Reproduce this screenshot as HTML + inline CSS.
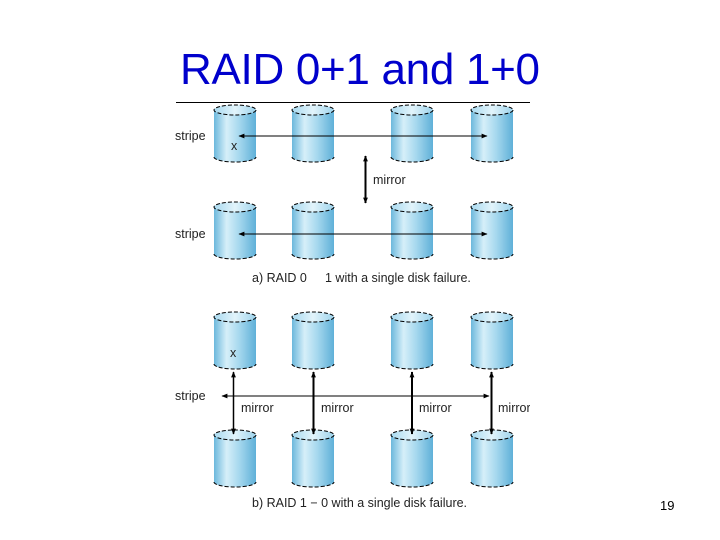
<!DOCTYPE html>
<html><head><meta charset="utf-8"><style>
html,body{margin:0;padding:0;background:#fff}
svg{display:block}
text{font-family:"Liberation Sans",sans-serif}
</style></head><body>
<svg width="720" height="540" viewBox="0 0 720 540" xmlns="http://www.w3.org/2000/svg">
<defs>
<linearGradient id="g" x1="0" x2="1" y1="0" y2="0">
<stop offset="0" stop-color="#6cb8dc"/>
<stop offset="0.3" stop-color="#d6eff9"/>
<stop offset="0.6" stop-color="#a6d8ee"/>
<stop offset="1" stop-color="#5fb0d8"/>
</linearGradient>
<linearGradient id="gt" x1="0" x2="1" y1="0" y2="0">
<stop offset="0" stop-color="#a9daf0"/>
<stop offset="0.5" stop-color="#e2f4fb"/>
<stop offset="1" stop-color="#9dd3ec"/>
</linearGradient>
<marker id="a" viewBox="0 0 10 10" refX="9" refY="5" markerWidth="7" markerHeight="6" markerUnits="userSpaceOnUse" orient="auto-start-reverse">
<path d="M0,1 L10,5 L0,9 z" fill="#000"/></marker>
<clipPath id="c"><rect x="0" y="0" width="530" height="540"/></clipPath>
<g id="cyl">
<path d="M0,5 L0,52 A21,5 0 0 0 42,52 L42,5 Z" fill="url(#g)"/>
<ellipse cx="21" cy="5" rx="21" ry="5" fill="url(#gt)"/>
<ellipse cx="21" cy="5" rx="21" ry="5" fill="none" stroke="#000" stroke-width="1" stroke-dasharray="4,2"/>
<path d="M0,52 A21,5 0 0 0 42,52" fill="none" stroke="#000" stroke-width="1" stroke-dasharray="4,2"/>
</g>
</defs>
<text x="180" y="84" font-size="44" fill="#0000cc" textLength="360">RAID 0+1 and 1+0</text>
<line x1="176" y1="102.5" x2="530" y2="102.5" stroke="#000" stroke-width="1"/>

<use href="#cyl" x="214" y="105"/><use href="#cyl" x="292" y="105"/><use href="#cyl" x="391" y="105"/><use href="#cyl" x="471" y="105"/>
<use href="#cyl" x="214" y="202"/><use href="#cyl" x="292" y="202"/><use href="#cyl" x="391" y="202"/><use href="#cyl" x="471" y="202"/>
<use href="#cyl" x="214" y="312"/><use href="#cyl" x="292" y="312"/><use href="#cyl" x="391" y="312"/><use href="#cyl" x="471" y="312"/>
<use href="#cyl" x="214" y="430"/><use href="#cyl" x="292" y="430"/><use href="#cyl" x="391" y="430"/><use href="#cyl" x="471" y="430"/>

<g font-size="12.5" fill="#222">
<text x="175" y="140">stripe</text>
<text x="231" y="150">x</text>
<text x="373" y="184">mirror</text>
<text x="175" y="238">stripe</text>
<text x="252" y="282">a) RAID 0</text>
<text x="325" y="282">1 with a single disk failure.</text>
<text x="230" y="357">x</text>
<text x="175" y="400">stripe</text>
<text x="241" y="412">mirror</text>
<text x="321" y="412">mirror</text>
<text x="419" y="412">mirror</text>
<text x="498" y="412" clip-path="url(#c)">mirror</text>
<text x="252" y="507">b) RAID 1 − 0 with a single disk failure.</text>
</g>
<text x="660" y="510" font-size="13" fill="#000">19</text>

<g stroke="#000" stroke-width="1" fill="none">
<line x1="239" y1="136" x2="487" y2="136" marker-start="url(#a)" marker-end="url(#a)"/>
<line x1="239" y1="234" x2="487" y2="234" marker-start="url(#a)" marker-end="url(#a)"/>
<line x1="365.5" y1="156" x2="365.5" y2="203" stroke-width="2" marker-start="url(#a)" marker-end="url(#a)"/>
<line x1="222" y1="396" x2="489" y2="396" marker-start="url(#a)" marker-end="url(#a)"/>
<line x1="233.5" y1="372" x2="233.5" y2="434" stroke-width="1.5" marker-start="url(#a)" marker-end="url(#a)"/>
<line x1="313.5" y1="372" x2="313.5" y2="434" stroke-width="2" marker-start="url(#a)" marker-end="url(#a)"/>
<line x1="412" y1="372" x2="412" y2="434" stroke-width="2" marker-start="url(#a)" marker-end="url(#a)"/>
<line x1="491.5" y1="372" x2="491.5" y2="434" stroke-width="2" marker-start="url(#a)" marker-end="url(#a)"/>
</g>
</svg>
</body></html>
